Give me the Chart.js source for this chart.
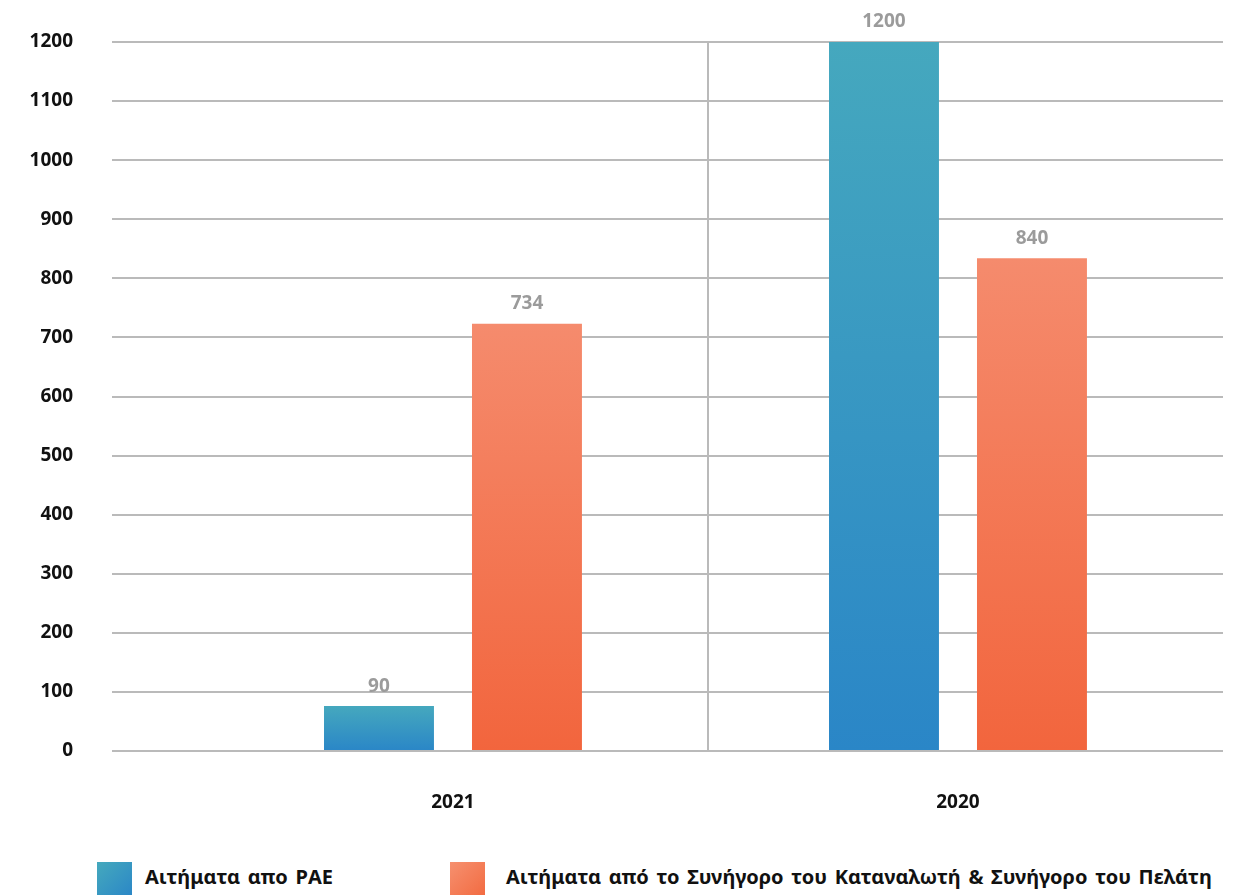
<!DOCTYPE html>
<html>
<head>
<meta charset="utf-8">
<script src="https://cdn.jsdelivr.net/npm/chart.js@4"></script>
<style>
  html, body { margin: 0; padding: 0; background: #fff; }
  #wrap { position: relative; width: 1235px; height: 895px; overflow: hidden; }
  #c { position: absolute; left: 0; top: 0; }
  .lg { position: absolute; font-family: "Noto Sans", sans-serif; font-weight: 700; font-size: 20px; word-spacing: 2.5px; color: #111; white-space: nowrap; line-height: 1; }
  .sw { position: absolute; width: 35px; height: 36px; }
</style>
</head>
<body>
<div id="wrap">
  <canvas id="c" width="1235" height="840"></canvas>
  <div class="sw" style="left:97px; top:862px; background: linear-gradient(135deg, #45a9bd, #2a86c7);"></div>
  <div class="lg" id="t1" style="left:145px; top:867px;">Αιτήματα απο ΡΑΕ</div>
  <div class="sw" style="left:450px; top:862px; background: linear-gradient(135deg, #f6906f, #f26a40);"></div>
  <div class="lg" id="t2" style="left:506px; top:867px;">Αιτήματα από το Συνήγορο του Καταναλωτή &amp; Συνήγορο του Πελάτη</div>
</div>
<script>
// ---- data ----
const categories = ['2021', '2020'];
const seriesNames = ['Αιτήματα απο ΡΑΕ', 'Αιτήματα από το Συνήγορο του Καταναλωτή & Συνήγορο του Πελάτη'];
const raeBars = [76, 1200];          // bar heights as drawn
const raeLabels = ['90', '1200'];    // value labels as printed
const advocateBars = [723, 834];
const advocateLabels = ['734', '840'];
const yTicks = [0, 100, 200, 300, 400, 500, 600, 700, 800, 900, 1000, 1100, 1200];

const catPositions = categories.map((_, i) => i);
const separatorValue = 0.505;

function gradFill(top, bottom, fallback) {
  return (ctx) => {
    const chart = ctx.chart;
    const ys = chart.scales && chart.scales.y;
    if (!ys || !ctx.parsed || ys.top === undefined) return fallback;
    const yTop = ys.getPixelForValue(ctx.parsed.y);
    const yBase = ys.getPixelForValue(0);
    if (!isFinite(yTop) || !isFinite(yBase) || yTop === yBase) return fallback;
    const g = chart.ctx.createLinearGradient(0, yTop, 0, yBase);
    g.addColorStop(0, top);
    g.addColorStop(1, bottom);
    return g;
  };
}

const valueLabels = [raeLabels, advocateLabels];

const labelPlugin = {
  id: 'valueLabels',
  afterDatasetsDraw(chart) {
    const c = chart.ctx;
    c.save();
    c.font = 'bold 19px "Noto Sans", sans-serif';
    c.fillStyle = '#9b9b9b';
    c.textAlign = 'center';
    c.textBaseline = 'middle';
    chart.data.datasets.forEach((ds, di) => {
      const meta = chart.getDatasetMeta(di);
      meta.data.forEach((el, i) => {
        c.fillText(valueLabels[di][i], el.x, el.y - 20);
      });
    });
    c.restore();
  }
};

const chart = new Chart(document.getElementById('c'), {
  type: 'bar',
  data: {
    datasets: [
      {
        label: seriesNames[0],
        data: catPositions.map((x, i) => ({ x, y: raeBars[i] })),
        backgroundColor: gradFill('#45a8be', '#2a86c7', '#3897c2'),
        categoryPercentage: 1.184,
        barPercentage: 0.743,
        borderWidth: 0
      },
      {
        label: seriesNames[1],
        data: catPositions.map((x, i) => ({ x, y: advocateBars[i] })),
        backgroundColor: gradFill('#f58b6d', '#f2653d', '#f47855'),
        categoryPercentage: 1.184,
        barPercentage: 0.743,
        borderWidth: 0
      }
    ]
  },
  options: {
    responsive: false,
    animation: false,
    layout: { padding: { top: 42, bottom: 19, left: 0, right: 12 } },
    plugins: { legend: { display: false }, tooltip: { enabled: false } },
    scales: {
      x: {
        type: 'linear',
        offset: false,
        min: -0.6752,
        max: 1.5248,
        afterBuildTicks: (s) => { s.ticks = [{ value: 0 }, { value: separatorValue }, { value: 1 }]; },
        afterFit: (s) => { s.height = 70; s.paddingLeft = 0; s.paddingRight = 0; },
        border: { display: false },
        grid: {
          offset: false,
          drawTicks: false,
          lineWidth: 2,
          color: (ctx) => (ctx.tick && ctx.tick.value === separatorValue) ? '#bababa' : 'rgba(0,0,0,0)'
        },
        ticks: {
          autoSkip: false,
          maxRotation: 0,
          padding: 40,
          color: '#111',
          font: { family: '"Noto Sans", sans-serif', weight: 'bold', size: 19 },
          callback: (v) => v === 0 ? categories[0] : (v === 1 ? categories[1] : '')
        }
      },
      y: {
        min: 0,
        max: 1200,
        afterBuildTicks: (s) => { s.ticks = yTicks.map(v => ({ value: v })); },
        afterFit: (s) => { s.width = 112; s.paddingTop = 0; s.paddingBottom = 0; },
        border: { display: false },
        grid: { drawTicks: false, lineWidth: 2, color: '#bababa' },
        ticks: {
          padding: 39,
          color: '#111',
          font: { family: '"Noto Sans", sans-serif', weight: 'bold', size: 19 },
          callback: (v) => String(v)
        }
      }
    }
  },
  plugins: [labelPlugin]
});
</script>
</body>
</html>
